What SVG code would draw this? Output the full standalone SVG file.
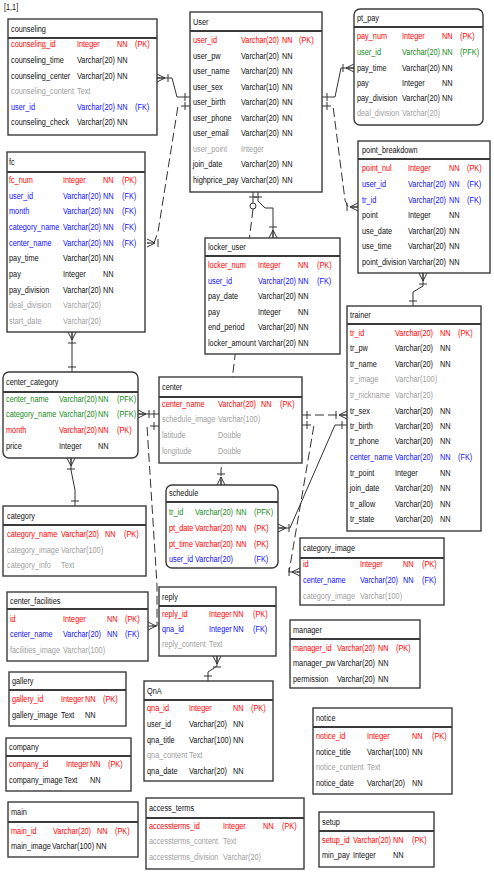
<svg xmlns="http://www.w3.org/2000/svg" width="494" height="876" viewBox="0 0 494 876">
<style>
text{font-family:"Liberation Sans",Arial,sans-serif;font-size:9.5px;transform-box:fill-box;transform-origin:0 0;transform:scaleX(0.77);fill:#111}
.r{fill:#f00}.b{fill:#1010ff}.g{fill:#178a17}.y{fill:#a0a0a0}
.box{fill:#fff;stroke:#3a3a3a;stroke-width:1.4}
.hd{stroke:#3a3a3a;stroke-width:2}
.c{fill:none;stroke:#333;stroke-width:1}
.d{stroke-dasharray:9 4}
.cf{marker-end:url(#crow)}
.on{marker-start:url(#one)}
</style>
<defs>
<marker id="crow" markerUnits="userSpaceOnUse" viewBox="-13 -6 14 12" refX="0" refY="0" markerWidth="14" markerHeight="12" orient="auto-start-reverse" overflow="visible">
<path d="M-8,0 L0,-4 M-8,0 L0,4 M-8,0 L0,0 M-11,-4 V4" fill="none" stroke="#333" stroke-width="1"/>
</marker>
<marker id="one" markerUnits="userSpaceOnUse" viewBox="-13 -6 14 12" refX="0" refY="0" markerWidth="14" markerHeight="12" orient="auto-start-reverse" overflow="visible">
<path d="M-5,-4 V4" fill="none" stroke="#333" stroke-width="1"/>
</marker>
</defs>
<rect width="494" height="876" fill="#fff"/>
<text x="4" y="10">[1,1]</text>

<g id="connectors">
<path class="c on cf" d="M190,97 H177 L172,78 H157"/>
<path class="c d on cf" d="M190,106 H178 L158,232 L154,243 H147"/>
<path class="c on cf" d="M322,97 H335 L341,68 H354"/>
<path class="c d on cf" d="M322,106 H333 L345,200 L348,207 H358"/>
<path class="c on cf" d="M258,192 V201 L265,208 H273 V238"/>
<path class="c on" d="M253,192 V203"/>
<circle cx="253" cy="206" r="3" fill="#fff" stroke="#333" stroke-width="1"/>
<path class="c d cf" d="M253,209 L221,470 V485"/>
<path class="c on cf" d="M72,372 V332"/>
<path class="c on cf" d="M75,506 V490 L71,470 V458"/>
<path class="c on cf" d="M159,414 H138"/>
<path class="c d on cf" d="M159,426 H147 L157,585 V626 H148"/>
<path class="c d on cf" d="M302,415 H347"/>
<path class="c d on cf" d="M302,425 H314 L289,572 H300"/>
<path class="c on cf" d="M347,425 H335 L290,528 H278"/>
<path class="c on cf" d="M413,306 V292 L423,286 V273"/>
<path class="c on cf" d="M208,681 V672 L217,666 V656"/>
</g>

<g id="counseling">
<rect class="box" x="8" y="19" width="149" height="116"/>
<line class="hd" x1="8" y1="38" x2="157" y2="38"/>
<text x="11" y="32">counseling</text>
<text class="r" x="11" y="47.5">counseling_id</text><text class="r" x="77" y="47.5">Integer</text><text class="r" x="117" y="47.5">NN</text><text class="r" x="135" y="47.5">(PK)</text>
<text x="11" y="63.5">counseling_time</text><text x="77" y="63.5">Varchar(20)</text><text x="117" y="63.5">NN</text>
<text x="11" y="79.5">counseling_center</text><text x="77" y="79.5">Varchar(20)</text><text x="117" y="79.5">NN</text>
<text class="y" x="11" y="94.5">counseling_content</text><text class="y" x="77" y="94.5">Text</text>
<text class="b" x="11" y="110.5">user_id</text><text class="b" x="77" y="110.5">Varchar(20)</text><text class="b" x="117" y="110.5">NN</text><text class="b" x="135" y="110.5">(FK)</text>
<text x="11" y="125.5">counseling_check</text><text x="77" y="125.5">Varchar(20)</text><text x="117" y="125.5">NN</text>
</g>

<g id="User">
<rect class="box" x="190" y="12" width="132" height="180"/>
<line class="hd" x1="190" y1="31" x2="322" y2="31"/>
<text x="193" y="25">User</text>
<text class="r" x="193" y="43.5">user_id</text><text class="r" x="241" y="43.5">Varchar(20)</text><text class="r" x="282" y="43.5">NN</text><text class="r" x="299" y="43.5">(PK)</text>
<text x="193" y="59">user_pw</text><text x="241" y="59">Varchar(20)</text><text x="282" y="59">NN</text>
<text x="193" y="74.5">user_name</text><text x="241" y="74.5">Varchar(20)</text><text x="282" y="74.5">NN</text>
<text x="193" y="90">user_sex</text><text x="241" y="90">Varchar(10)</text><text x="282" y="90">NN</text>
<text x="193" y="105.5">user_birth</text><text x="241" y="105.5">Varchar(20)</text><text x="282" y="105.5">NN</text>
<text x="193" y="121">user_phone</text><text x="241" y="121">Varchar(20)</text><text x="282" y="121">NN</text>
<text x="193" y="136.5">user_email</text><text x="241" y="136.5">Varchar(20)</text><text x="282" y="136.5">NN</text>
<text class="y" x="193" y="152">user_point</text><text class="y" x="241" y="152">Integer</text>
<text x="193" y="167.5">join_date</text><text x="241" y="167.5">Varchar(20)</text><text x="282" y="167.5">NN</text>
<text x="193" y="183">highprice_pay</text><text x="241" y="183">Varchar(20)</text><text x="282" y="183">NN</text>
</g>

<g id="pt_pay">
<rect class="box" x="354" y="9" width="129" height="116" rx="6"/>
<line class="hd" x1="354" y1="27" x2="483" y2="27"/>
<text x="357" y="21.5">pt_pay</text>
<text class="r" x="357" y="39.5">pay_num</text><text class="r" x="402" y="39.5">Integer</text><text class="r" x="442" y="39.5">NN</text><text class="r" x="460" y="39.5">(PK)</text>
<text class="g" x="357" y="55.5">user_id</text><text class="g" x="402" y="55.5">Varchar(20)</text><text class="g" x="442" y="55.5">NN</text><text class="g" x="460" y="55.5">(PFK)</text>
<text x="357" y="71.5">pay_time</text><text x="402" y="71.5">Varchar(20)</text><text x="442" y="71.5">NN</text>
<text x="357" y="86.5">pay</text><text x="402" y="86.5">Integer</text><text x="442" y="86.5">NN</text>
<text x="357" y="101.5">pay_division</text><text x="402" y="101.5">Varchar(20)</text><text x="442" y="101.5">NN</text>
<text class="y" x="357" y="116.5">deal_division</text><text class="y" x="402" y="116.5">Varchar(20)</text>
</g>

<g id="fc">
<rect class="box" x="7" y="152" width="138" height="180"/>
<line class="hd" x1="7" y1="172" x2="145" y2="172"/>
<text x="9" y="165.5">fc</text>
<text class="r" x="9" y="183.5">fc_num</text><text class="r" x="63" y="183.5">Integer</text><text class="r" x="103" y="183.5">NN</text><text class="r" x="122" y="183.5">(PK)</text>
<text class="b" x="9" y="199.5">user_id</text><text class="b" x="63" y="199.5">Varchar(20)</text><text class="b" x="103" y="199.5">NN</text><text class="b" x="122" y="199.5">(FK)</text>
<text class="b" x="9" y="214.5">month</text><text class="b" x="63" y="214.5">Varchar(20)</text><text class="b" x="103" y="214.5">NN</text><text class="b" x="122" y="214.5">(FK)</text>
<text class="b" x="9" y="230.5">category_name</text><text class="b" x="63" y="230.5">Varchar(20)</text><text class="b" x="103" y="230.5">NN</text><text class="b" x="122" y="230.5">(FK)</text>
<text class="b" x="9" y="246.5">center_name</text><text class="b" x="63" y="246.5">Varchar(20)</text><text class="b" x="103" y="246.5">NN</text><text class="b" x="122" y="246.5">(FK)</text>
<text x="9" y="261.5">pay_time</text><text x="63" y="261.5">Varchar(20)</text><text x="103" y="261.5">NN</text>
<text x="9" y="277.5">pay</text><text x="63" y="277.5">Integer</text><text x="103" y="277.5">NN</text>
<text x="9" y="293.5">pay_division</text><text x="63" y="293.5">Varchar(20)</text><text x="103" y="293.5">NN</text>
<text class="y" x="9" y="308.5">deal_division</text><text class="y" x="63" y="308.5">Varchar(20)</text>
<text class="y" x="9" y="324.5">start_date</text><text class="y" x="63" y="324.5">Varchar(20)</text>
</g>

<g id="point_breakdown">
<rect class="box" x="358" y="141" width="132" height="132"/>
<line class="hd" x1="358" y1="159" x2="490" y2="159"/>
<text x="362" y="153.5">point_breakdown</text>
<text class="r" x="362" y="171.5">point_nul</text><text class="r" x="408" y="171.5">Integer</text><text class="r" x="449" y="171.5">NN</text><text class="r" x="467" y="171.5">(PK)</text>
<text class="b" x="362" y="187.5">user_id</text><text class="b" x="408" y="187.5">Varchar(20)</text><text class="b" x="449" y="187.5">NN</text><text class="b" x="467" y="187.5">(FK)</text>
<text class="b" x="362" y="203.5">tr_id</text><text class="b" x="408" y="203.5">Varchar(20)</text><text class="b" x="449" y="203.5">NN</text><text class="b" x="467" y="203.5">(FK)</text>
<text x="362" y="218.5">point</text><text x="408" y="218.5">Integer</text><text x="449" y="218.5">NN</text>
<text x="362" y="234.5">use_date</text><text x="408" y="234.5">Varchar(20)</text><text x="449" y="234.5">NN</text>
<text x="362" y="249.5">use_time</text><text x="408" y="249.5">Varchar(20)</text><text x="449" y="249.5">NN</text>
<text x="362" y="265.5">point_division</text><text x="408" y="265.5">Varchar(20)</text><text x="449" y="265.5">NN</text>
</g>

<g id="locker_user">
<rect class="box" x="205" y="238" width="135" height="116"/>
<line class="hd" x1="205" y1="256" x2="340" y2="256"/>
<text x="208" y="250.5">locker_user</text>
<text class="r" x="208" y="268.5">locker_num</text><text class="r" x="258" y="268.5">Integer</text><text class="r" x="298" y="268.5">NN</text><text class="r" x="317" y="268.5">(PK)</text>
<text class="b" x="208" y="284.5">user_id</text><text class="b" x="258" y="284.5">Varchar(20)</text><text class="b" x="298" y="284.5">NN</text><text class="b" x="317" y="284.5">(FK)</text>
<text x="208" y="299.5">pay_date</text><text x="258" y="299.5">Varchar(20)</text><text x="298" y="299.5">NN</text>
<text x="208" y="315.5">pay</text><text x="258" y="315.5">Integer</text><text x="298" y="315.5">NN</text>
<text x="208" y="330.5">end_period</text><text x="258" y="330.5">Varchar(20)</text><text x="298" y="330.5">NN</text>
<text x="208" y="346.5">locker_amount</text><text x="258" y="346.5">Varchar(20)</text><text x="298" y="346.5">NN</text>
</g>

<g id="trainer">
<rect class="box" x="347" y="306" width="134" height="225"/>
<line class="hd" x1="347" y1="324" x2="481" y2="324"/>
<text x="350" y="318.5">trainer</text>
<text class="r" x="350" y="336.5">tr_id</text><text class="r" x="395" y="336.5">Varchar(20)</text><text class="r" x="440" y="336.5">NN</text><text class="r" x="458" y="336.5">(PK)</text>
<text x="350" y="351.5">tr_pw</text><text x="395" y="351.5">Varchar(20)</text><text x="440" y="351.5">NN</text>
<text x="350" y="367.5">tr_name</text><text x="395" y="367.5">Varchar(20)</text><text x="440" y="367.5">NN</text>
<text class="y" x="350" y="382.5">tr_image</text><text class="y" x="395" y="382.5">Varchar(100)</text>
<text class="y" x="350" y="398.5">tr_nickname</text><text class="y" x="395" y="398.5">Varchar(20)</text>
<text x="350" y="414.5">tr_sex</text><text x="395" y="414.5">Varchar(20)</text><text x="440" y="414.5">NN</text>
<text x="350" y="429.5">tr_birth</text><text x="395" y="429.5">Varchar(20)</text><text x="440" y="429.5">NN</text>
<text x="350" y="444.5">tr_phone</text><text x="395" y="444.5">Varchar(20)</text><text x="440" y="444.5">NN</text>
<text class="b" x="350" y="460.5">center_name</text><text class="b" x="395" y="460.5">Varchar(20)</text><text class="b" x="440" y="460.5">NN</text><text class="b" x="458" y="460.5">(FK)</text>
<text x="350" y="476.5">tr_point</text><text x="395" y="476.5">Integer</text><text x="440" y="476.5">NN</text>
<text x="350" y="491.5">join_date</text><text x="395" y="491.5">Varchar(20)</text><text x="440" y="491.5">NN</text>
<text x="350" y="507.5">tr_allow</text><text x="395" y="507.5">Varchar(20)</text><text x="440" y="507.5">NN</text>
<text x="350" y="522.5">tr_state</text><text x="395" y="522.5">Varchar(20)</text><text x="440" y="522.5">NN</text>
</g>

<g id="center_category">
<rect class="box" x="3" y="372" width="135" height="86" rx="6"/>
<line class="hd" x1="3" y1="392" x2="138" y2="392"/>
<text x="6" y="385.5">center_category</text>
<text class="g" x="6" y="402.5">center_name</text><text class="g" x="59" y="402.5">Varchar(20)</text><text class="g" x="98" y="402.5">NN</text><text class="g" x="117" y="402.5">(PFK)</text>
<text class="g" x="6" y="417.5">category_name</text><text class="g" x="59" y="417.5">Varchar(20)</text><text class="g" x="98" y="417.5">NN</text><text class="g" x="117" y="417.5">(PFK)</text>
<text class="r" x="6" y="433.5">month</text><text class="r" x="59" y="433.5">Varchar(20)</text><text class="r" x="98" y="433.5">NN</text><text class="r" x="117" y="433.5">(PK)</text>
<text x="6" y="449.5">price</text><text x="59" y="449.5">Integer</text><text x="98" y="449.5">NN</text>
</g>

<g id="center">
<rect class="box" x="159" y="377" width="143" height="86"/>
<line class="hd" x1="159" y1="397" x2="302" y2="397"/>
<text x="162" y="390.5">center</text>
<text class="r" x="162" y="407.5">center_name</text><text class="r" x="218" y="407.5">Varchar(20)</text><text class="r" x="261" y="407.5">NN</text><text class="r" x="280" y="407.5">(PK)</text>
<text class="y" x="162" y="422.5">schedule_image</text><text class="y" x="218" y="422.5">Varchar(100)</text>
<text class="y" x="162" y="438.5">latitude</text><text class="y" x="218" y="438.5">Double</text>
<text class="y" x="162" y="454.5">longitude</text><text class="y" x="218" y="454.5">Double</text>
</g>

<g id="schedule">
<rect class="box" x="166" y="485" width="112" height="83" rx="6"/>
<line class="hd" x1="166" y1="502" x2="278" y2="502"/>
<text x="169" y="496.5">schedule</text>
<text class="g" x="169" y="515.5">tr_id</text><text class="g" x="195" y="515.5">Varchar(20)</text><text class="g" x="236" y="515.5">NN</text><text class="g" x="254" y="515.5">(PFK)</text>
<text class="r" x="169" y="531.5">pt_date</text><text class="r" x="195" y="531.5">Varchar(20)</text><text class="r" x="236" y="531.5">NN</text><text class="r" x="254" y="531.5">(PK)</text>
<text class="r" x="169" y="547.5">pt_time</text><text class="r" x="195" y="547.5">Varchar(20)</text><text class="r" x="236" y="547.5">NN</text><text class="r" x="254" y="547.5">(PK)</text>
<text class="b" x="169" y="562.5">user_id</text><text class="b" x="195" y="562.5">Varchar(20)</text><text class="b" x="254" y="562.5">(FK)</text>
</g>

<g id="category">
<rect class="box" x="3" y="506" width="143" height="70"/>
<line class="hd" x1="3" y1="525" x2="146" y2="525"/>
<text x="7" y="519">category</text>
<text class="r" x="7" y="537.5">category_name</text><text class="r" x="61" y="537.5">Varchar(20)</text><text class="r" x="105" y="537.5">NN</text><text class="r" x="124" y="537.5">(PK)</text>
<text class="y" x="7" y="553.5">category_image</text><text class="y" x="61" y="553.5">Varchar(100)</text>
<text class="y" x="7" y="568.5">category_info</text><text class="y" x="61" y="568.5">Text</text>
</g>

<g id="category_image">
<rect class="box" x="300" y="538" width="144" height="67"/>
<line class="hd" x1="300" y1="558" x2="444" y2="558"/>
<text x="303" y="551.5">category_image</text>
<text class="r" x="303" y="567.5">id</text><text class="r" x="360" y="567.5">Integer</text><text class="r" x="403" y="567.5">NN</text><text class="r" x="422" y="567.5">(PK)</text>
<text class="b" x="303" y="583.5">center_name</text><text class="b" x="360" y="583.5">Varchar(20)</text><text class="b" x="403" y="583.5">NN</text><text class="b" x="422" y="583.5">(FK)</text>
<text class="y" x="303" y="599.5">category_image</text><text class="y" x="360" y="599.5">Varchar(100)</text>
</g>

<g id="center_facilities">
<rect class="box" x="7" y="592" width="141" height="69"/>
<line class="hd" x1="7" y1="609" x2="148" y2="609"/>
<text x="10" y="604">center_facilities</text>
<text class="r" x="10" y="622.5">id</text><text class="r" x="63" y="622.5">Integer</text><text class="r" x="107" y="622.5">NN</text><text class="r" x="125" y="622.5">(PK)</text>
<text class="b" x="10" y="637.5">center_name</text><text class="b" x="63" y="637.5">Varchar(20)</text><text class="b" x="107" y="637.5">NN</text><text class="b" x="125" y="637.5">(FK)</text>
<text class="y" x="10" y="653.5">facilities_image</text><text class="y" x="63" y="653.5">Varchar(100)</text>
</g>

<g id="reply">
<rect class="box" x="159" y="587" width="117" height="69"/>
<line class="hd" x1="159" y1="606" x2="276" y2="606"/>
<text x="162" y="600">reply</text>
<text class="r" x="162" y="617.5">reply_id</text><text class="r" x="209" y="617.5">Integer</text><text class="r" x="233" y="617.5">NN</text><text class="r" x="253" y="617.5">(PK)</text>
<text class="b" x="162" y="632.5">qna_id</text><text class="b" x="209" y="632.5">Integer</text><text class="b" x="233" y="632.5">NN</text><text class="b" x="253" y="632.5">(FK)</text>
<text class="y" x="162" y="647.5">reply_content</text><text class="y" x="209" y="647.5">Text</text>
</g>

<g id="manager">
<rect class="box" x="290" y="620" width="130" height="68"/>
<line class="hd" x1="290" y1="639" x2="420" y2="639"/>
<text x="293" y="633">manager</text>
<text class="r" x="293" y="651.5">manager_id</text><text class="r" x="337" y="651.5">Varchar(20)</text><text class="r" x="378" y="651.5">NN</text><text class="r" x="396" y="651.5">(PK)</text>
<text x="293" y="666.5">manager_pw</text><text x="337" y="666.5">Varchar(20)</text><text x="378" y="666.5">NN</text>
<text x="293" y="682.5">permission</text><text x="337" y="682.5">Varchar(20)</text><text x="378" y="682.5">NN</text>
</g>

<g id="notice">
<rect class="box" x="313" y="708" width="139" height="86"/>
<line class="hd" x1="313" y1="727" x2="452" y2="727"/>
<text x="316" y="721">notice</text>
<text class="r" x="316" y="739.5">notice_id</text><text class="r" x="367" y="739.5">Integer</text><text class="r" x="412" y="739.5">NN</text><text class="r" x="432" y="739.5">(PK)</text>
<text x="316" y="755.5">notice_title</text><text x="367" y="755.5">Varchar(100)</text><text x="412" y="755.5">NN</text>
<text class="y" x="316" y="770.5">notice_content</text><text class="y" x="367" y="770.5">Text</text>
<text x="316" y="786.5">notice_date</text><text x="367" y="786.5">Varchar(20)</text><text x="412" y="786.5">NN</text>
</g>

<g id="gallery">
<rect class="box" x="9" y="672" width="117" height="54"/>
<line class="hd" x1="9" y1="690" x2="126" y2="690"/>
<text x="12" y="684">gallery</text>
<text class="r" x="12" y="702.5">gallery_id</text><text class="r" x="61" y="702.5">Integer</text><text class="r" x="85" y="702.5">NN</text><text class="r" x="103" y="702.5">(PK)</text>
<text x="12" y="718.5">gallery_image</text><text x="61" y="718.5">Text</text><text x="85" y="718.5">NN</text>
</g>

<g id="company">
<rect class="box" x="6" y="738" width="125" height="53"/>
<line class="hd" x1="6" y1="756" x2="131" y2="756"/>
<text x="9" y="750">company</text>
<text class="r" x="9" y="767.5">company_id</text><text class="r" x="66" y="767.5">Integer</text><text class="r" x="90" y="767.5">NN</text><text class="r" x="108" y="767.5">(PK)</text>
<text x="9" y="783.5">company_image</text><text x="64" y="783.5">Text</text><text x="90" y="783.5">NN</text>
</g>

<g id="QnA">
<rect class="box" x="144" y="681" width="129" height="100"/>
<line class="hd" x1="144" y1="700" x2="273" y2="700"/>
<text x="147" y="694">QnA</text>
<text class="r" x="147" y="711.5">qna_id</text><text class="r" x="189" y="711.5">Integer</text><text class="r" x="233" y="711.5">NN</text><text class="r" x="251" y="711.5">(PK)</text>
<text x="147" y="727.5">user_id</text><text x="189" y="727.5">Varchar(20)</text><text x="233" y="727.5">NN</text>
<text x="147" y="743.5">qna_title</text><text x="189" y="743.5">Varchar(100)</text><text x="233" y="743.5">NN</text>
<text class="y" x="147" y="758.5">qna_content</text><text class="y" x="189" y="758.5">Text</text>
<text x="147" y="774.5">qna_date</text><text x="189" y="774.5">Varchar(20)</text><text x="233" y="774.5">NN</text>
</g>

<g id="main">
<rect class="box" x="8" y="802" width="130" height="55"/>
<line class="hd" x1="8" y1="822" x2="138" y2="822"/>
<text x="11" y="815.5">main</text>
<text class="r" x="11" y="834.5">main_id</text><text class="r" x="53" y="834.5">Varchar(20)</text><text class="r" x="97" y="834.5">NN</text><text class="r" x="115" y="834.5">(PK)</text>
<text x="11" y="849.5">main_image</text><text x="52" y="849.5">Varchar(100)</text><text x="96" y="849.5">NN</text>
</g>

<g id="access_terms">
<rect class="box" x="146" y="798" width="158" height="71"/>
<line class="hd" x1="146" y1="818" x2="304" y2="818"/>
<text x="149" y="811.5">access_terms</text>
<text class="r" x="149" y="829.5">accessterms_id</text><text class="r" x="223" y="829.5">Integer</text><text class="r" x="263" y="829.5">NN</text><text class="r" x="282" y="829.5">(PK)</text>
<text class="y" x="149" y="844.5">accessterms_content</text><text class="y" x="223" y="844.5">Text</text>
<text class="y" x="149" y="860.5">accessterms_division</text><text class="y" x="223" y="860.5">Varchar(20)</text>
</g>

<g id="setup">
<rect class="box" x="319" y="812" width="115" height="55"/>
<line class="hd" x1="319" y1="831" x2="434" y2="831"/>
<text x="322" y="825">setup</text>
<text class="r" x="322" y="843.5">setup_id</text><text class="r" x="353" y="843.5">Varchar(20)</text><text class="r" x="393" y="843.5">NN</text><text class="r" x="412" y="843.5">(PK)</text>
<text x="322" y="858.5">min_pay</text><text x="353" y="858.5">Integer</text><text x="393" y="858.5">NN</text>
</g>
</svg>
